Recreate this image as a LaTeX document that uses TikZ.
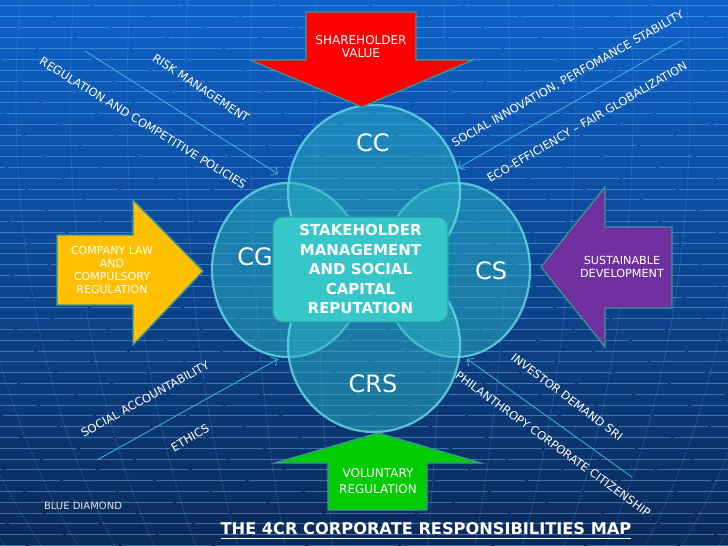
\documentclass[tikz,border=0pt]{standalone}
\usepackage{fontspec}
\setmainfont{DejaVu Sans}
\usetikzlibrary{arrows.meta,shapes.geometric}
\definecolor{bgtop}{HTML}{0D62C9}
\definecolor{bgmid}{HTML}{0A4A9E}
\definecolor{bgbot}{HTML}{0B2A58}
\definecolor{hl}{HTML}{6AAEF0}
\definecolor{bubblefill}{HTML}{2AB4C4}
\definecolor{bubblerim}{HTML}{66D4E4}
\definecolor{boxfill}{HTML}{36C8C8}
\definecolor{boxrim}{HTML}{2A9EA8}
\definecolor{thinarrow}{HTML}{3CB8DC}
\definecolor{arrowrim}{HTML}{3A9696}
\definecolor{redarrow}{HTML}{FF0000}
\definecolor{yellowarrow}{HTML}{FFC000}
\definecolor{purplearrow}{HTML}{7030A0}
\definecolor{greenarrow}{HTML}{00CC00}
\definecolor{signcol}{HTML}{E4E4E4}
\newcommand{\myuline}[1]{\setbox0\hbox{#1}\rlap{\rule[-4.5pt]{\wd0}{1.6pt}}\box0}
\tikzset{
 hline/.style={draw=hl, line width=0.9pt, opacity=0.5},
 meridian/.style={draw=hl, line width=0.8pt, opacity=0.22},
 bubble/.style={ellipse, fill=bubblefill, fill opacity=0.5, draw=bubblerim, line width=2.2pt, draw opacity=0.85, inner sep=0pt},
 bubblelabel/.style={text=white, font=\fontsize{24}{28}\selectfont, inner sep=0pt},
 centerbox/.style={rounded corners=10pt, fill=boxfill, draw=boxrim, line width=1.2pt, text=white, font=\bfseries\fontsize{15}{19.5}\selectfont, align=center, minimum width=175pt, minimum height=105pt, inner sep=0pt},
 blockarrow/.style={draw=arrowrim, line width=1.3pt, line join=miter},
 blocktext/.style={text=white, align=center, inner sep=0pt},
 flowarrow/.style={draw=thinarrow, line width=0.8pt, -{Straight Barb[length=5pt,width=10pt]}},
 slanted/.style={text=white, font=\fontsize{11.5}{13}\selectfont, inner sep=0pt},
}
\begin{document}
\begin{tikzpicture}[x=1pt,y=-1pt]
\useasboundingbox (0,0) rectangle (728,546);
% background
\shade[top color=bgtop, middle color=bgmid, bottom color=bgbot] (0,0) rectangle (728,546);
\begin{scope}
\clip (0,0) rectangle (728,546);
\foreach \a in {65,130,195,253,310,364,415,465,515}
  \draw[meridian] (380,100) ellipse [x radius=\a pt, y radius=650pt];
\foreach \i in {0,...,50} {
  \pgfmathsetmacro\yy{5.5+10.8*\i}
  \pgfmathsetmacro\ph{mod(\i*37,94)}
  \draw[hline, dash pattern=on 90pt off 3pt, dash phase=\ph pt] (0,\yy) -- (728,\yy);
}
\end{scope}

% thin arrows with labels
\coordinate (a1s) at (85,51);   \coordinate (a1e) at (278,174);
\coordinate (a2s) at (682,40);  \coordinate (a2e) at (458,168);
\coordinate (a3s) at (97,460);  \coordinate (a3e) at (278,359);
\coordinate (a4s) at (632,477); \coordinate (a4e) at (467,359);
\draw[flowarrow] (a1s) -- (a1e);
\draw[flowarrow] (a2s) -- (a2e);
\draw[flowarrow] (a3s) -- (a3e);
\draw[flowarrow] (a4s) -- (a4e);

\node[slanted, rotate=-31.5] (t1) at (143,123) {REGULATION AND COMPETITIVE POLICIES};
\node[slanted, rotate=-33.5] (t2) at (201,88) {RISK MANAGEMENT};
\node[slanted, rotate=29.5] (t3) at (568,79) {SOCIAL INNOVATION, PERFOMANCE STABILITY};
\node[slanted, rotate=30] (t4) at (587,122) {ECO-EFFICIENCY – FAIR GLOBALIZATION};
\node[slanted, rotate=29] (t5) at (145,399) {SOCIAL ACCOUNTABILITY};
\node[slanted, rotate=30] (t6) at (190,438) {ETHICS};
\node[slanted, rotate=-37] (t7) at (567,397) {INVESTOR DEMAND SRI};
\node[slanted, rotate=-36] (t8) at (553,444) {PHILANTHROPY CORPORATE CITIZENSHIP};

% bubbles
\node[bubble, minimum width=152pt, minimum height=174pt] (cg) at (288,270) {};
\node[bubble, minimum width=148pt, minimum height=174pt] (cs) at (456,270) {};
\node[bubble, minimum width=172pt, minimum height=174pt] (cc) at (374,192) {};
\node[bubble, minimum width=172pt, minimum height=174pt] (crs) at (374,345) {};

\node[bubblelabel] (lcc) at (373,143) {CC};
\node[bubblelabel] (lcg) at (255,257) {CG};
\node[bubblelabel] (lcs) at (491,271) {CS};
\node[bubblelabel] (lcrs) at (373,384) {CRS};

\node[centerbox] (center) at (360.5,269.5) {STAKEHOLDER\\MANAGEMENT\\AND SOCIAL\\CAPITAL\\REPUTATION};

% block arrows
\draw[blockarrow, fill=redarrow] (306,12) -- (416,12) -- (416,60) -- (473,60) -- (362,107) -- (250,60) -- (306,60) -- cycle;
\node[blocktext, font=\fontsize{12}{12.8}\selectfont] (tred) at (361,47) {SHAREHOLDER\\VALUE};

\draw[blockarrow, fill=yellowarrow] (57,235) -- (133,235) -- (133,200) -- (203,271) -- (133,345) -- (133,305) -- (57,305) -- cycle;
\node[blocktext, font=\fontsize{11}{13}\selectfont] (tyellow) at (112,270) {COMPANY LAW\\AND\\COMPULSORY\\REGULATION};

\draw[blockarrow, fill=purplearrow] (672,227) -- (605,227) -- (605,187) -- (541,267) -- (605,347) -- (605,308) -- (672,308) -- cycle;
\node[blocktext, font=\fontsize{11.2}{13}\selectfont] (tpurple) at (622,267) {SUSTAINABLE\\DEVELOPMENT};

\draw[blockarrow, fill=greenarrow] (378,433) -- (481,463) -- (427,463) -- (427,510) -- (328,510) -- (328,463) -- (275,463) -- cycle;
\node[blocktext, font=\fontsize{12}{15.6}\selectfont] (tgreen) at (378,481) {VOLUNTARY\\REGULATION};

% footer texts
\node[text=signcol, font=\fontsize{10}{12}\selectfont, inner sep=0pt] (sign) at (83,506) {BLUE DIAMOND};
\node[text=white, font=\bfseries\fontsize{16.2}{18}\selectfont, inner sep=0pt] (title) at (426,531) {\myuline{THE 4CR CORPORATE RESPONSIBILITIES MAP}};
\end{tikzpicture}
\end{document}
